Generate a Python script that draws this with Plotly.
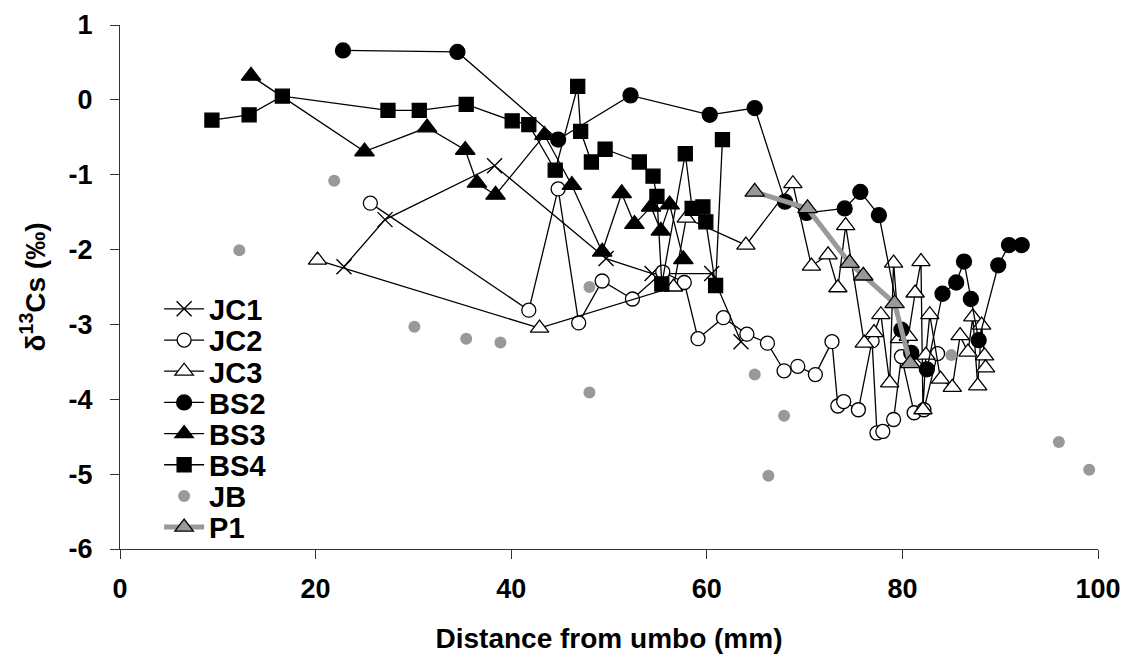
import plotly.graph_objects as go

# ---- data ----
JC1_x = [22.9, 27.1, 38.3, 49.7, 54.4, 60.5, 63.5]
JC1_y = [-2.23, -1.60, -0.88, -2.12, -2.32, -2.32, -3.23]

JC2_x = [25.6, 41.8, 44.8, 46.9, 49.3, 52.4, 55.5, 57.7, 59.1, 61.7, 64.1, 66.2, 67.9, 69.3,
         71.1, 72.8, 73.4, 74.0, 75.5, 76.9, 77.4, 78.0, 79.1, 79.9, 81.2, 82.2, 83.6]
JC2_y = [-1.38, -2.81, -1.19, -2.98, -2.42, -2.66, -2.30, -2.44, -3.19, -2.91, -3.13, -3.25, -3.62, -3.56,
         -3.67, -3.23, -4.09, -4.03, -4.14, -3.22, -4.45, -4.43, -4.27, -3.43, -4.18, -4.14, -3.39]

JC3_x = [20.2, 42.9, 56.6, 57.9, 64.0, 68.8, 70.7, 72.4, 73.4, 74.2, 76.1, 77.1, 77.8, 78.7, 79.1, 79.7,
         80.6, 81.3, 81.9, 82.1, 82.4, 82.8, 83.9, 85.1, 85.9, 86.7, 87.2, 87.7, 88.1, 88.4, 88.5]
JC3_y = [-2.14, -3.05, -2.50, -1.58, -1.94, -1.12, -2.22, -2.07, -2.51, -1.68, -3.25, -3.11, -2.87, -3.78, -2.18, -3.19,
         -3.16, -2.58, -2.16, -4.14, -3.41, -2.87, -3.73, -3.84, -3.15, -3.37, -2.90, -3.82, -3.01, -3.42, -3.58]

BS2_x = [22.8, 34.5, 44.8, 52.2, 60.3, 64.9, 68.0, 70.2, 74.1, 75.7, 77.6, 79.9, 80.9, 82.5, 84.1, 85.5,
         86.3, 87.0, 87.8, 89.8, 90.9, 92.2]
BS2_y = [0.66, 0.64, -0.53, 0.06, -0.20, -0.11, -1.36, -1.51, -1.45, -1.23, -1.54, -3.07, -3.38, -3.60, -2.59, -2.44,
         -2.16, -2.66, -3.21, -2.21, -1.94, -1.94]

BS3_x = [13.4, 25.0, 31.4, 35.3, 36.5, 38.4, 43.4, 46.2, 49.3, 51.3, 52.6, 54.3, 55.3, 56.2, 57.6]
BS3_y = [0.32, -0.69, -0.37, -0.67, -1.11, -1.27, -0.47, -1.14, -2.03, -1.25, -1.66, -1.43, -1.75, -1.40, -2.13]

BS4_x = [9.4, 13.2, 16.6, 27.4, 30.6, 35.4, 40.1, 41.8, 44.5, 46.8, 47.1, 48.2, 49.6, 53.1, 54.5, 54.9,
         55.4, 57.8, 58.5, 59.6, 59.9, 60.9, 61.6]
BS4_y = [-0.27, -0.20, 0.05, -0.14, -0.14, -0.06, -0.28, -0.33, -0.94, 0.18, -0.42, -0.83, -0.66, -0.83, -1.02, -1.29,
         -2.46, -0.72, -1.45, -1.43, -1.63, -2.48, -0.53]

JB_x = [12.2, 21.9, 30.1, 35.4, 38.9, 48.0, 48.0, 64.9, 66.3, 67.9, 85.0, 96.0, 99.1]
JB_y = [-2.01, -1.08, -3.03, -3.19, -3.24, -2.50, -3.91, -3.67, -5.02, -4.22, -3.41, -4.57, -4.94]

P1_x = [64.9, 70.3, 74.6, 76.0, 79.2, 80.8]
P1_y = [-1.23, -1.45, -2.18, -2.35, -2.72, -3.52]

X_TICKS = [0, 20, 40, 60, 80, 100]
Y_TICKS = [1, 0, -1, -2, -3, -4, -5, -6]
SERIES_NAMES = ["JC1", "JC2", "JC3", "BS2", "BS3", "BS4", "JB", "P1"]

FONT = "Liberation Sans, Arial, sans-serif"
BLACK = "#000000"
GREY = "#999999"
LW = 1.3
FS_TICK = 27
FS_TITLE = 28
FS_LEG = 29

fig = go.Figure()
legend_ids = ["legend"] + ["legend%d" % i for i in range(2, len(SERIES_NAMES) + 1)]

def line_trace(idx, xs, ys, symbol, size, fill, lcol=BLACK, lwidth=LW, mlw=1.3, mode="lines+markers"):
    fig.add_trace(go.Scatter(
        x=xs, y=ys, name=SERIES_NAMES[idx], mode=mode,
        legend=legend_ids[idx],
        line=dict(color=lcol, width=lwidth),
        marker=dict(symbol=symbol, size=size, color=fill,
                    line=dict(color=BLACK, width=mlw)),
    ))

line_trace(0, JC1_x, JC1_y, "x-thin", 15, BLACK, mlw=1.4)
line_trace(1, JC2_x, JC2_y, "circle", 14, "white")
line_trace(2, JC3_x, JC3_y, "triangle-up", 16, "white")
line_trace(3, BS2_x, BS2_y, "circle", 15, BLACK)
line_trace(4, BS3_x, BS3_y, "triangle-up", 17, BLACK)
line_trace(5, BS4_x, BS4_y, "square", 14, BLACK)
line_trace(6, JB_x, JB_y, "circle", 12, GREY, mlw=0, mode="markers")
line_trace(7, P1_x, P1_y, "triangle-up", 17, GREY, lcol=GREY, lwidth=5)

# one single-item legend per series, stacked down the left of the plot
ROW_TOP = 0.458     # paper y of first row centre
ROW_STEP = 0.0595   # paper spacing between rows
layout_legends = {}
for i, lid in enumerate(legend_ids):
    layout_legends[lid] = dict(
        x=0.04, y=ROW_TOP - i * ROW_STEP, xanchor="left", yanchor="middle",
        font=dict(family=FONT, size=FS_LEG, color=BLACK, weight="bold"),
        bgcolor="rgba(0,0,0,0)", borderwidth=0, itemwidth=40,
    )

# page body has an 8px margin; size the figure so it fits the 1130x662 window
fig.update_layout(
    width=1114, height=646,
    margin=dict(l=112, r=24, t=17, b=105, autoexpand=False),
    paper_bgcolor="white", plot_bgcolor="white",
    font=dict(family=FONT, size=FS_TICK, color=BLACK, weight="bold"),
    showlegend=True,
    **layout_legends,
)

fig.update_xaxes(
    range=[0, 100], tickvals=X_TICKS, ticktext=[str(v) for v in X_TICKS],
    showgrid=False, zeroline=False, showline=True, linecolor="#333", linewidth=1.2,
    ticks="outside", ticklen=9, tickcolor="#333", tickwidth=1.2, automargin=False,
    tickfont=dict(family=FONT, size=FS_TICK, color=BLACK, weight="bold"),
    ticklabelstandoff=6, ticklabeloverflow="allow",
    title=dict(text="Distance from umbo (mm)", standoff=29,
               font=dict(family=FONT, size=FS_TITLE, color=BLACK, weight="bold")),
)
fig.update_yaxes(
    range=[-6, 1], tickvals=Y_TICKS, ticktext=[str(v) for v in Y_TICKS],
    showgrid=False, zeroline=False, showline=True, linecolor="#333", linewidth=1.2,
    ticks="outside", ticklen=9, tickcolor="#333", tickwidth=1.2, automargin=False,
    tickfont=dict(family=FONT, size=FS_TICK, color=BLACK, weight="bold"),
    ticklabelstandoff=12, ticklabeloverflow="allow",
    title=dict(text="δ<sup>13</sup>Cs (‰)", standoff=14,
               font=dict(family=FONT, size=FS_TITLE, color=BLACK, weight="bold")),
)

fig.write_html("out.html")
